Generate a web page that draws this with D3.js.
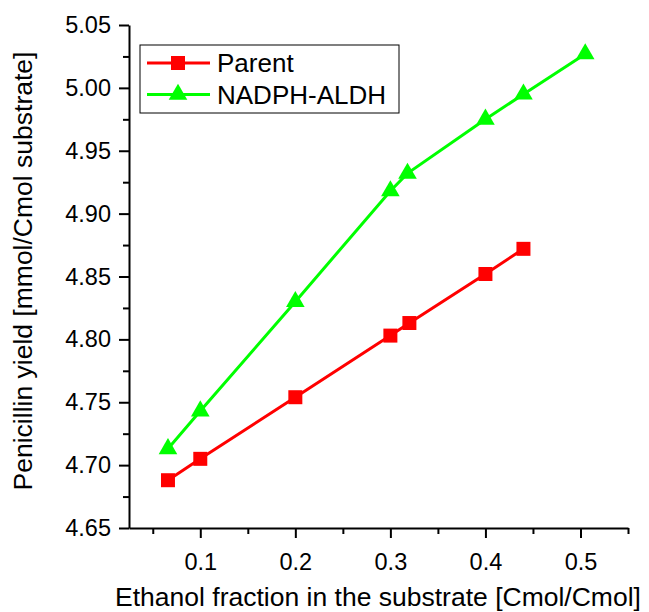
<!DOCTYPE html>
<html>
<head>
<meta charset="utf-8">
<script src="https://cdn.jsdelivr.net/npm/d3@7"></script>
<style>
  body { margin: 0; background: #fff; }
  text { font-family: "Liberation Sans", Arial, sans-serif; fill: #000; }
</style>
</head>
<body>
<div id="chart"></div>
<script>
  const parentX = [0.066, 0.1, 0.2, 0.3, 0.32, 0.4, 0.44];
  const parentY = [4.688, 4.705, 4.754, 4.803, 4.813, 4.852, 4.872];
  const aldhX = [0.066, 0.1, 0.2, 0.3, 0.318, 0.4, 0.44, 0.505];
  const aldhY = [4.713, 4.743, 4.830, 4.918, 4.932, 4.975, 4.995, 5.027];
  const xTicks = [0.1, 0.2, 0.3, 0.4, 0.5];
  const yTicks = [4.65, 4.70, 4.75, 4.80, 4.85, 4.90, 4.95, 5.00, 5.05];

  const series = [
    { name: "Parent", xs: parentX, ys: parentY, color: "#ff0000", shape: d3.symbolSquare, size: 196 },
    { name: "NADPH-ALDH", xs: aldhX, ys: aldhY, color: "#00ff00", shape: d3.symbolTriangle, size: 150 }
  ];

  const width = 649, height = 612;
  const margin = { left: 129, right: 21, top: 25, bottom: 84 };

  const svg = d3.select("#chart")
    .append("svg")
    .attr("width", width)
    .attr("height", height);

  const x = d3.scaleLinear()
    .domain([0.025, 0.55])
    .range([margin.left, width - margin.right]);

  const y = d3.scaleLinear()
    .domain([4.65, 5.05])
    .range([height - margin.bottom, margin.top]);

  // minor ticks halfway between the major ones
  const xMinor = d3.range(0.05, 0.56, 0.1);
  const yMinor = d3.range(4.675, 5.05, 0.05);

  svg.append("g")
    .attr("transform", `translate(0,${height - margin.bottom})`)
    .call(d3.axisBottom(x).tickValues(xMinor).tickSize(6).tickFormat(""))
    .call(g => g.select(".domain").remove());
  svg.append("g")
    .attr("transform", `translate(0,${height - margin.bottom})`)
    .call(d3.axisBottom(x).tickValues(xTicks).tickSize(10).tickSizeOuter(0).tickPadding(15)
      .tickFormat(d3.format(".1f")));

  svg.append("g")
    .attr("transform", `translate(${margin.left},0)`)
    .call(d3.axisLeft(y).tickValues(yMinor).tickSize(6).tickFormat(""))
    .call(g => g.select(".domain").remove());
  svg.append("g")
    .attr("transform", `translate(${margin.left},0)`)
    .call(d3.axisLeft(y).tickValues(yTicks).tickSize(10).tickSizeOuter(0).tickPadding(8)
      .tickFormat(d3.format(".2f")));

  svg.selectAll(".tick line, .domain")
    .attr("stroke", "#000")
    .attr("stroke-width", 2);
  svg.selectAll(".tick text")
    .style("font-size", "23.5px")
    .style("font-family", "Liberation Sans, Arial, sans-serif");

  // axis titles
  svg.append("text")
    .attr("x", 378)
    .attr("y", 606)
    .attr("text-anchor", "middle")
    .style("font-size", "26.5px")
    .text("Ethanol fraction in the substrate [Cmol/Cmol]");

  svg.append("text")
    .attr("transform", "translate(32,271) rotate(-90)")
    .attr("text-anchor", "middle")
    .style("font-size", "26.5px")
    .text("Penicillin yield [mmol/Cmol substrate]");

  const line = d3.line();

  series.forEach(s => {
    const pts = s.xs.map((v, i) => [x(v), y(s.ys[i])]);
    svg.append("path")
      .attr("d", line(pts))
      .attr("fill", "none")
      .attr("stroke", s.color)
      .attr("stroke-width", 3);
    svg.append("g")
      .selectAll("path")
      .data(pts)
      .enter()
      .append("path")
      .attr("transform", d => `translate(${d[0]},${d[1]})`)
      .attr("d", d3.symbol(s.shape, s.size))
      .attr("fill", s.color);
  });

  // legend
  const legend = svg.append("g").attr("transform", "translate(140,45)");
  legend.append("rect")
    .attr("width", 259)
    .attr("height", 68)
    .attr("fill", "#fff")
    .attr("stroke", "#000")
    .attr("stroke-width", 1);

  series.forEach((s, i) => {
    const cy = 18 + i * 31.5;
    legend.append("line")
      .attr("x1", 7).attr("x2", 70)
      .attr("y1", cy).attr("y2", cy)
      .attr("stroke", s.color)
      .attr("stroke-width", 3);
    legend.append("path")
      .attr("transform", `translate(38,${cy})`)
      .attr("d", d3.symbol(s.shape, s.size))
      .attr("fill", s.color);
    legend.append("text")
      .attr("x", 77)
      .attr("y", cy + 9)
      .style("font-size", "26px")
      .text(s.name);
  });
</script>
</body>
</html>
